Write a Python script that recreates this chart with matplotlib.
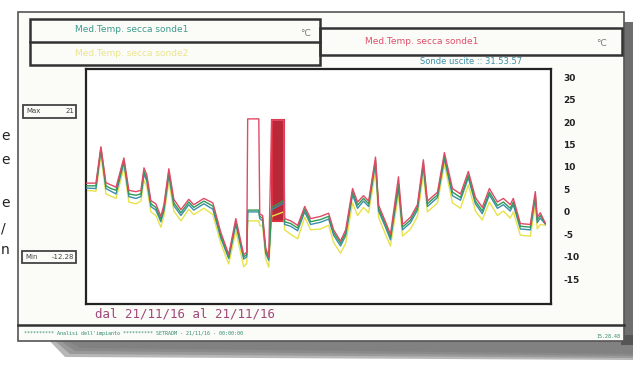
import matplotlib
matplotlib.use("Agg")
import matplotlib.pyplot as plt
from matplotlib.patches import Rectangle, Polygon
from matplotlib.lines import Line2D

# ---------------- data ----------------
ore = [0.00, 0.52, 0.78, 1.04, 1.30, 1.57, 1.98, 2.24, 2.61, 2.87, 3.03, 3.18,
       3.39, 3.65, 3.91, 4.07, 4.33, 4.59, 4.96, 5.37, 5.63, 6.16, 6.63, 7.04,
       7.46, 7.83, 8.24, 8.40, 8.45, 9.03, 9.08, 9.23, 9.39, 9.55, 9.70, 10.33,
       10.38, 10.70, 11.06, 11.43, 11.74, 12.26, 12.68, 12.94, 13.30, 13.57,
       13.93, 14.19, 14.50, 14.77, 15.13, 15.29, 15.65, 15.91, 16.33, 16.54,
       16.96, 17.32, 17.63, 17.84, 18.37, 18.73, 19.15, 19.57, 19.98, 20.35,
       20.71, 21.08, 21.50, 21.81, 22.17, 22.33, 22.70, 23.22, 23.48, 23.58,
       23.74, 24.00]

rosso = [6.4, 6.4, 14.5, 6.5, 6.0, 5.5, 12.0, 4.8, 4.5, 4.8, 9.8, 8.2,
         2.5, 1.8, -1.0, 1.5, 9.6, 2.8, 0.5, 2.8, 1.6, 3.0, 2.0, -4.5,
         -9.5, -1.5, -9.5, -9.0, 20.7, 20.7, -0.5, -0.8, -8.0, -10.0, 20.4, 20.4,
         -1.5, -2.0, -3.0, 1.2, -1.5, -1.0, -0.3, -4.0, -6.5, -4.0,
         5.2, 2.2, 3.6, 2.4, 12.2, 1.5, -2.2, -5.0, 7.8, -2.8,
         -1.2, 1.6, 11.6, 2.4, 4.4, 13.2, 5.2, 4.0, 9.0, 3.2,
         1.0, 5.2, 2.2, 3.0, 1.6, 3.0, -2.6, -2.8, 4.5, -1.2,
         -0.2, -2.5]

verde = [5.8, 5.8, 14.2, 5.8, 5.2, 4.8, 11.6, 4.0, 3.7, 4.0, 9.0, 7.4,
         1.8, 1.0, -1.6, 0.8, 9.0, 2.0, -0.2, 2.2, 1.0, 2.4, 1.3, -5.2,
         -10.0, -2.2, -10.0, -9.5, 0.4, 0.4, -1.0, -1.4, -8.6, -10.4, 1.0, 2.5,
         -2.2, -2.6, -3.6, 0.6, -2.2, -1.7, -1.0, -4.6, -7.0, -4.7,
         4.5, 1.5, 3.0, 1.8, 11.5, 0.8, -2.8, -5.6, 6.2, -3.4,
         -1.8, 1.0, 10.8, 1.8, 3.8, 12.4, 4.4, 3.2, 8.2, 2.4,
         0.2, 4.4, 1.4, 2.2, 0.8, 2.2, -3.2, -3.4, 3.8, -1.8,
         -0.8, -2.6]

azzurro = [5.3, 5.2, 13.8, 5.2, 4.6, 4.0, 11.0, 3.4, 3.0, 3.4, 8.4, 6.8,
           1.2, 0.4, -2.2, 0.2, 8.2, 1.4, -0.8, 1.6, 0.4, 1.8, 0.6, -5.8,
           -10.4, -2.8, -10.5, -10.0, 0.0, 0.0, -1.5, -2.0, -9.2, -10.8, 0.5, 2.0,
           -2.8, -3.2, -4.2, 0.0, -2.8, -2.3, -1.6, -5.2, -7.6, -5.3,
           3.8, 0.8, 2.4, 1.2, 10.8, 0.2, -3.4, -6.2, 5.4, -4.0,
           -2.4, 0.4, 10.2, 1.2, 3.2, 11.8, 3.6, 2.6, 7.6, 1.8,
           -0.4, 3.8, 0.8, 1.6, 0.2, 1.6, -3.8, -4.0, 3.2, -2.4,
           -1.4, -2.7]

giallo = [4.8, 4.6, 12.5, 4.0, 3.5, 3.0, 9.8, 2.2, 1.8, 2.4, 7.0, 5.6,
          0.0, -0.8, -3.4, -1.0, 6.8, 0.2, -2.0, 0.6, -0.6, 0.8, -0.6, -7.0,
          -11.6, -4.2, -12.2, -11.5, -2.0, -2.0, -3.0, -3.2, -10.5, -12.3, -1.0, 0.0,
          -4.0, -5.0, -6.0, -1.2, -4.0, -3.8, -3.0, -6.8, -9.2, -7.0,
          2.0, -0.8, 1.0, -0.2, 9.0, -1.2, -5.0, -7.6, 3.8, -5.4,
          -3.8, -1.0, 8.4, 0.0, 2.0, 10.6, 2.0, 0.8, 6.0, 0.2,
          -1.8, 2.2, -0.8, 0.2, -1.4, 0.0, -5.2, -5.4, 1.5, -3.8,
          -2.8, -3.0]

# filled red block
blocco_inizio = [9.70]
blocco_fine = [10.33]
blocco_alto = [20.4]
blocco_basso = [-2.0]

tick_vals = [30, 25, 20, 15, 10, 5, 0, -5, -10, -15]

# ---------------- figure ----------------
W, H = 633, 370
fig = plt.figure(figsize=(W / 100, H / 100), dpi=100)
fig.patch.set_facecolor("white")

def P(x, y):
    return (x / W, 1 - y / H)

def rect(x0, y0, x1, y1, **kw):
    r = Rectangle(P(x0, y1), (x1 - x0) / W, (y1 - y0) / H,
                  transform=fig.transFigure, **kw)
    fig.add_artist(r)

def hline(x0, x1, y, **kw):
    fig.add_artist(Line2D([x0 / W, x1 / W], [1 - y / H, 1 - y / H],
                          transform=fig.transFigure, **kw))

# shadow of the sheet
for i, a in enumerate([0.10, 0.15, 0.22, 0.35]):
    d = 4 - i
    poly = Polygon([P(40 + d * 4, 335), P(633, 335), P(633, 362 - d * 2),
                    P(60 + d * 5, 360 - d * 3)], closed=True,
                   transform=fig.transFigure, facecolor="#333333",
                   edgecolor="none", alpha=a, zorder=0.1)
    fig.add_artist(poly)
rect(621, 22, 633, 345, facecolor="#4a4a4a", edgecolor="none", alpha=0.8, zorder=0.1)

# sheet
rect(18, 12, 624, 341, facecolor="#fbfbf8", edgecolor="#555555", linewidth=1.2,
     zorder=0.2)

# top boxes
rect(30, 19, 320, 65, facecolor="none", edgecolor="#333333", linewidth=1.8)
hline(30, 320, 42, color="#333333", linewidth=1.8)
rect(320, 28, 622, 55, facecolor="none", edgecolor="#333333", linewidth=1.8)

cond = ["Liberation Sans Narrow", "DejaVu Sans"]
fig.text(*P(75, 30), "Med.Temp. secca sonde1", color="#3d9a8c", fontsize=6.5,
         family=cond, va="center")
fig.text(*P(300, 33), "°C", color="#777777", fontsize=6.5, family=cond, va="center")
fig.text(*P(75, 53), "Med.Temp. secca sonde2", color="#ebe58a", fontsize=6.5,
         family=cond, va="center")
fig.text(*P(365, 41), "Med.Temp. secca sonde1", color="#e0506a", fontsize=6.5,
         family=cond, va="center")
fig.text(*P(596, 43), "°C", color="#777777", fontsize=6.5, family=cond, va="center")
fig.text(*P(420, 62), "Sonde uscite :: 31.53.57", color="#3d8fa8", fontsize=6,
         family=cond, va="center")

# max / min boxes
rect(23, 105, 76, 118, facecolor="none", edgecolor="#444444", linewidth=1.3)
fig.text(*P(26, 111.5), "Max", color="#444444", fontsize=5, family=cond, va="center")
fig.text(*P(74, 111.5), "21", color="#444444", fontsize=5, family=cond,
         va="center", ha="right")
rect(22, 251, 76, 263, facecolor="none", edgecolor="#444444", linewidth=1.3)
fig.text(*P(25, 257), "Min", color="#444444", fontsize=5, family=cond, va="center")
fig.text(*P(74, 257), "-12.28", color="#444444", fontsize=5, family=cond,
         va="center", ha="right")

# cut-off text fragments at the left border
for yy, ch in [(136, "e"), (160, "e"), (203, "e"), (228, "/"), (250, "n")]:
    fig.text(*P(1, yy), ch, color="#222222", fontsize=10, va="center")

# date range and footer
fig.text(*P(95, 314), "dal 21/11/16 al 21/11/16", color="#a0467a", fontsize=9,
         family="DejaVu Sans Mono", va="center")
hline(18, 624, 325, color="#333333", linewidth=1.8)
fig.text(*P(24, 334), "********** Analisi dell'impianto ********** SETRADM - 21/11/16 - 00:00:00",
         color="#2e8a6a", fontsize=3.6, family="DejaVu Sans Mono", va="center")
fig.text(*P(596, 336), "15.28.48", color="#2e8a6a", fontsize=3.6,
         family="DejaVu Sans Mono", va="center")

# ---------------- main chart ----------------
ax = fig.add_axes([86 / W, 1 - 304 / H, (551 - 86) / W, (304 - 69) / H])
ax.set_zorder(10)
ax.set_facecolor("white")
ax.set_xlim(0, 24.3)
ax.set_ylim(-20.5, 31.8)

ax.bar([(a + b) / 2 for a, b in zip(blocco_inizio, blocco_fine)],
       [t - b for t, b in zip(blocco_alto, blocco_basso)],
       width=[b - a for a, b in zip(blocco_inizio, blocco_fine)],
       bottom=blocco_basso, color="#b82838", edgecolor="#e03040",
       linewidth=1.5, zorder=1)

ax.plot(ore, giallo, color="#e8e24a", linewidth=1.0, zorder=2)
ax.plot(ore, azzurro, color="#3a8fa8", linewidth=1.0, zorder=3)
ax.plot(ore, verde, color="#2f9a55", linewidth=1.0, zorder=4)
ax.plot(ore, rosso, color="#e04a66", linewidth=1.0, zorder=5)

ax.set_xticks([])
ax.yaxis.tick_right()
ax.set_yticks(tick_vals)
ax.set_yticklabels([str(v) for v in tick_vals], family=cond, fontsize=6.5,
                   fontweight="bold", color="#222222")
ax.tick_params(axis="y", length=0, pad=9)
for s in ax.spines.values():
    s.set_color("#222222")
    s.set_linewidth(1.6)

fig.savefig("out.png", dpi=100, facecolor="white")
